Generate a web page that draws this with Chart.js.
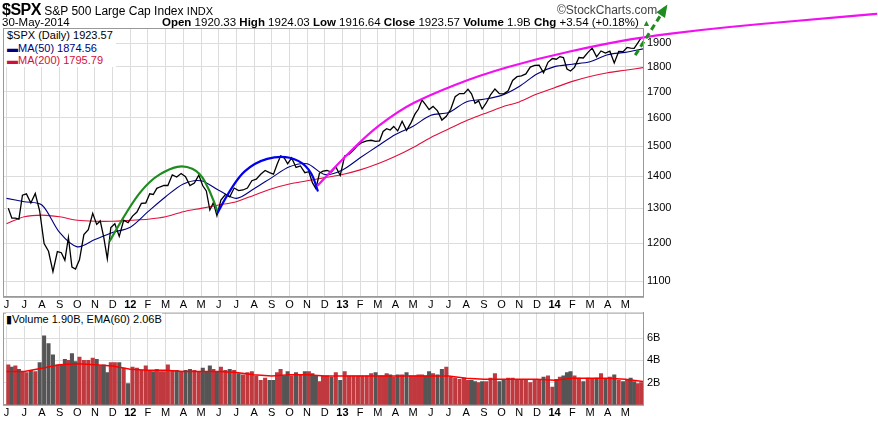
<!DOCTYPE html>
<html><head><meta charset="utf-8">
<script src="https://cdn.jsdelivr.net/npm/chart.js@4.4.0/dist/chart.umd.min.js"></script>
<style>
body{margin:0;background:#fff;font-family:"Liberation Sans",Arial,sans-serif;}
#wrap{position:relative;width:878px;height:422px;overflow:hidden}
canvas{position:absolute;left:0}
.t{position:absolute;white-space:nowrap;font-size:12px;color:#000}
.b{font-weight:bold}
#leg{position:absolute;left:4px;top:29px;background:#fff;font-size:11px;line-height:12.5px;padding:0 3px}
</style></head><body>
<div id="wrap">
<canvas id="vol" width="878" height="120" style="top:302px"></canvas>
<canvas id="main" width="878" height="314" style="top:0"></canvas>
<div class="t" style="left:2px;top:1px"><span class="b" style="font-size:16px;letter-spacing:-0.5px">$SPX</span> <span style="font-size:12px">S&amp;P 500 Large Cap Index</span> <span style="font-size:11px">INDX</span></div>
<div class="t" style="left:2px;top:16px;font-size:11.5px">30-May-2014</div>
<div class="t" style="left:162px;top:16px;font-size:11.5px"><span class="b">Open</span> 1920.33 <span class="b">High</span> 1924.03 <span class="b">Low</span> 1916.64 <span class="b">Close</span> 1923.57 <span class="b">Volume</span> 1.9B <span class="b">Chg</span> +3.54 (+0.18%) <span style="color:#2a8a2a;font-size:9px">▲</span></div>
<div class="t" style="left:557px;top:3px;font-size:12px;color:#444">©StockCharts.com</div>
<div id="leg"><span>$SPX (Daily) 1923.57</span><br><span style="color:#000080">▬MA(50) 1874.56</span><br><span style="color:#d0103a">▬MA(200) 1795.79</span></div>
<div class="t" style="left:6px;top:313px;font-size:11px;background:#fff">▮Volume 1.90B, EMA(60) 2.06B</div>
</div>
<script>
const monthLabels=['J','J','A','S','O','N','D','12','F','M','A','M','J','J','A','S','O','N','D','13','F','M','A','M','J','J','A','S','O','N','D','14','F','M','A','M'];
const weeksPerMonth=[5,4,4,5,4,5,4, 4,5,4,4,5,4,4,4,5,4,5,4, 4,4,5,4,5,4,4,5,4,4,4,4, 5,4,4,4,5];
const closes=[1300,1271,1271,1268,1340, 1344,1316,1345,1292, 1199,1178,1124,1177, 1174,1154,1216,1136,1131, 1155,1224,1238,1285, 1253,1263,1216,1158,1244, 1255,1219,1265,1258,
1277,1289,1315,1316, 1344,1342,1361,1366,1370, 1370,1404,1397,1408, 1398,1370,1378,1403, 1369,1353,1295,1317,1278, 1325,1342,1335,1362, 1354,1356,1362,1385, 1390,1406,1418,1411, 1406,1438,1466,1460,1440, 1460,1428,1433,1411, 1414,1379,1360,1409,1416, 1418,1413,1430,1402,
1466,1472,1486,1503, 1513,1518,1520,1516, 1518,1551,1561,1556,1569, 1553,1588,1555,1582, 1614,1633,1667,1650,1631, 1643,1626,1592,1606, 1632,1680,1692,1692, 1709,1691,1655,1664,1633, 1655,1687,1710,1692, 1691,1703,1744,1759, 1762,1770,1798,1805, 1806,1775,1818,1834,
1831,1842,1838,1790,1782, 1797,1838,1836,1859, 1878,1841,1866,1857, 1865,1815,1864,1863, 1881,1878,1877,1900,1924];
const volumes=[3.6,3.4,3.5,3.2,3.0, 2.9,3.1,3.0,3.8, 6.2,5.5,4.5,3.6, 3.6,4.1,4.0,4.6,3.9, 4.3,4.0,4.0,4.2, 4.1,3.5,3.6,2.9,3.8, 3.8,3.8,3.3,1.9,
3.4,3.3,3.1,3.5, 3.1,3.0,3.2,3.0,3.0, 3.6,3.1,3.1,3.0, 3.1,3.2,3.1,3.0, 3.3,3.0,3.5,3.2,3.0, 3.4,3.1,3.2,3.1, 2.8,2.7,2.9,3.0, 2.6,2.2,2.4,2.2, 2.2,2.9,3.2,2.6,3.0, 2.6,2.9,2.7,3.0, 3.0,2.8,2.6,2.1,2.6, 2.6,2.5,2.9,2.2,
3.0,2.6,2.6,2.6, 2.6,2.6,2.8,2.9, 2.6,2.6,2.8,2.7,2.5, 2.7,2.7,2.9,2.6, 2.6,2.7,2.7,2.6,3.0, 2.8,2.7,3.2,3.4, 2.5,2.4,2.3,2.4, 2.2,2.2,2.1,2.0,2.1, 2.1,2.4,2.8,2.1, 2.3,2.4,2.4,2.3, 2.2,2.3,2.0,2.2, 2.2,2.5,2.6,1.6,
2.3,2.5,2.6,2.9,3.0, 2.6,2.4,2.1,2.4, 2.3,2.4,2.8,2.3, 2.5,2.7,2.2,2.1, 2.3,2.4,2.1,1.9,2.0];
const ma50=[1330,1320,1310,1230,1190,1210,1230,1245,1290,1335,1375,1385,1355,1330,1360,1395,1430,1440,1405,1420,1460,1500,1540,1570,1610,1620,1660,1670,1685,1720,1770,1800,1810,1820,1850,1860,1875];
const ma200=[1255,1275,1280,1275,1265,1262,1262,1265,1268,1275,1290,1300,1310,1320,1340,1360,1375,1385,1395,1405,1420,1440,1465,1495,1530,1560,1590,1615,1640,1660,1690,1715,1740,1760,1775,1785,1796];
const ema60=[3.0,3.0,3.3,3.6,3.7,3.6,3.5,3.2,3.1,3.1,3.0,3.0,3.0,2.9,2.7,2.6,2.7,2.7,2.6,2.6,2.6,2.6,2.6,2.6,2.6,2.6,2.4,2.3,2.3,2.3,2.3,2.2,2.4,2.4,2.4,2.3,2.1];
const priceTicks=[1100,1200,1300,1400,1500,1600,1700,1800,1900];
const volTicks=[2,4,6];
const greenArcX=[5.85,6.98,8.1,9.24,10.08,10.93,11.5,11.95], greenArcY=[1207,1309,1386,1425,1435,1412,1354,1288];
const blueArcX=[11.95,12.9,14.04,15.45,16.58,17.26,17.6], blueArcY=[1288,1386,1445,1468,1452,1412,1354];
const pinkX=[17.6,19.97,22.2,23.9,26.75,30.1,33.5,35.96,39.2,42.6,45.96,49.2], pinkY=[1370,1520,1628,1686,1765,1835,1891,1926,1958,1985,2008,2032];
const arrowX=[35.56,37.26], arrowY=[1848,2060];

const weekX=[];weeksPerMonth.forEach((n,m)=>{for(let i=0;i<n;i++)weekX.push(m+(i+0.5)/n);});
const pts=(xs,ys)=>ys.map((y,i)=>({x:xs[i],y}));
const monthX=ma50.map((_,i)=>i);
const grid='#dcdcdc';
const xScale=()=>({type:'linear',min:-0.2,max:36,offset:false,
  afterBuildTicks:s=>{s.ticks=monthLabels.map((_,i)=>({value:i}));},
  ticks:{autoSkip:false,maxRotation:0,padding:2,color:'#000',callback:v=>monthLabels[v],
    font:c=>({family:'Liberation Sans',size:11,weight:/\d/.test(monthLabels[c.index]||'')?'bold':'normal'})},
  grid:{color:grid,drawTicks:false,offset:false},border:{color:'#999'}});
function smooth(c,p){c.moveTo(p[0].x,p[0].y);for(let i=1;i<p.length-1;i++){const mx=(p[i].x+p[i+1].x)/2,my=(p[i].y+p[i+1].y)/2;c.quadraticCurveTo(p[i].x,p[i].y,mx,my);}c.lineTo(p[p.length-1].x,p[p.length-1].y);}
const annot={id:'annot',afterDatasetsDraw(ch){const xs=ch.scales.x,ys=ch.scales.y,c=ch.ctx;
  const px=(X,Y)=>X.map((x,i)=>({x:xs.getPixelForValue(x),y:ys.getPixelForValue(Y[i])}));
  c.save();c.lineCap='round';
  c.strokeStyle='#1e8c1e';c.lineWidth=2.2;c.beginPath();smooth(c,px(greenArcX,greenArcY));c.stroke();
  c.strokeStyle='#0000ee';c.beginPath();smooth(c,px(blueArcX,blueArcY));c.stroke();
  c.strokeStyle='#f010f0';c.beginPath();smooth(c,px(pinkX,pinkY));c.stroke();
  const ar=px(arrowX,arrowY),a=ar[0],b=ar[1];
  c.strokeStyle='#1e8c1e';c.lineWidth=3;c.lineCap='butt';c.setLineDash([6,4]);c.beginPath();c.moveTo(a.x,a.y);c.lineTo(b.x,b.y);c.stroke();c.setLineDash([]);
  const ang=Math.atan2(b.y-a.y,b.x-a.x);c.fillStyle='#1e8c1e';c.beginPath();
  c.moveTo(b.x+Math.cos(ang)*4,b.y+Math.sin(ang)*4);c.lineTo(b.x+Math.cos(ang+2.6)*10,b.y+Math.sin(ang+2.6)*10);c.lineTo(b.x+Math.cos(ang-2.6)*10,b.y+Math.sin(ang-2.6)*10);c.closePath();c.fill();
  c.restore();}};
const frame={id:'frame',afterDraw(ch){const a=ch.chartArea,c=ch.ctx;c.save();c.strokeStyle='#999';c.lineWidth=1;c.strokeRect(a.left+0.5,a.top+0.5,a.right-a.left,a.bottom-a.top);c.restore();}};
const line=(data,color,w,extra)=>Object.assign({type:'line',data,borderColor:color,borderWidth:w,pointRadius:0,tension:0,fill:false},extra||{});
new Chart(document.getElementById('main'),{type:'line',
 data:{datasets:[
  line(pts(weekX,closes),'#000',1.3),
  line(pts(monthX,ma50),'#000080',1.1,{tension:0.3}),
  line(pts(monthX,ma200),'#e0103a',1.1,{tension:0.3})
 ]},
 options:{animation:false,responsive:false,plugins:{legend:{display:false},tooltip:{enabled:false}},
  layout:{padding:{left:3,top:28,right:0,bottom:0}},
  scales:{x:xScale(),
   y:{type:'logarithmic',position:'right',min:1061,max:1967,
    afterBuildTicks:s=>{s.ticks=priceTicks.map(v=>({value:v}));},
    afterFit:s=>{s.width=235;},
    ticks:{color:'#000',padding:4,font:{family:'Liberation Sans',size:11},callback:v=>String(v)},
    grid:{color:grid,drawTicks:false},border:{color:'#999'}}}},
 plugins:[annot,frame]});
const volColors=closes.map((c,i)=>i===0||c>=closes[i-1]?'#c0393f':'#555555');
new Chart(document.getElementById('vol'),{type:'bar',
 data:{datasets:[
  {type:'line',data:pts(monthX,ema60),borderColor:'#ff0000',borderWidth:1.5,pointRadius:0,order:0},
  {type:'bar',data:pts(weekX,volumes),backgroundColor:volColors,barThickness:3.4,order:1}
 ]},
 options:{animation:false,responsive:false,plugins:{legend:{display:false},tooltip:{enabled:false}},
  layout:{padding:{left:3,top:10,right:0,bottom:0}},
  scales:{x:xScale(),
   y:{position:'right',min:0,max:8.3,
    afterBuildTicks:s=>{s.ticks=volTicks.map(v=>({value:v}));},
    afterFit:s=>{s.width=235;},
    ticks:{color:'#000',padding:4,font:{family:'Liberation Sans',size:11},callback:v=>v+'B'},
    grid:{color:grid,drawTicks:false},border:{color:'#999'}}}},
 plugins:[frame]});
</script></body></html>
